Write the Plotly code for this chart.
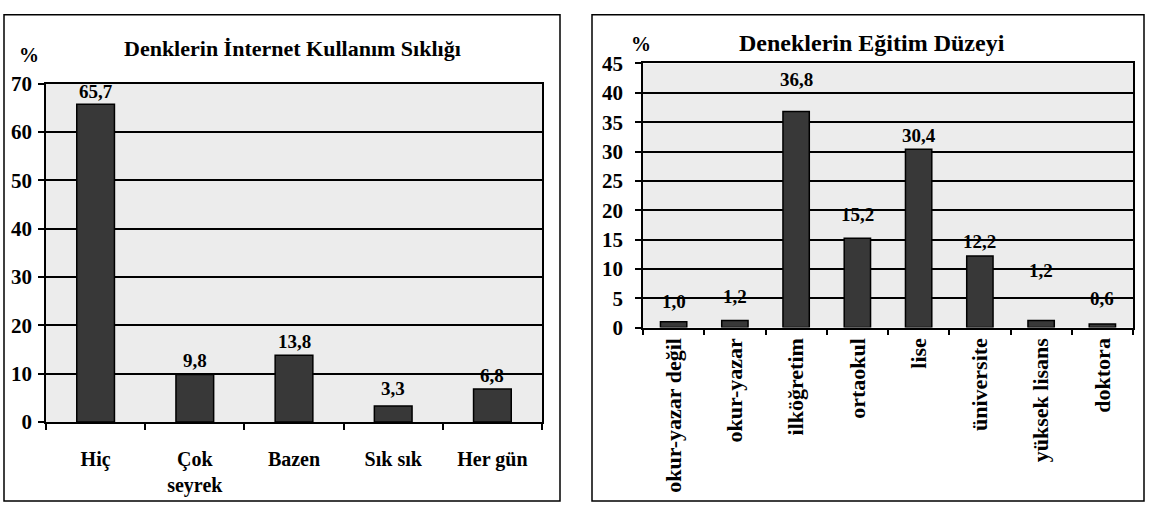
import plotly.graph_objects as go

W, H = 1149, 515

# Left chart data
freq_categories = ["Hiç", "Çok<br>seyrek", "Bazen", "Sık sık", "Her gün"]
freq_values = [65.7, 9.8, 13.8, 3.3, 6.8]
freq_labels = ["65,7", "9,8", "13,8", "3,3", "6,8"]
freq_title = "Denklerin İnternet Kullanım Sıklığı"
freq_yticks = [0, 10, 20, 30, 40, 50, 60, 70]

# Right chart data
edu_categories = ["okur-yazar değil", "okur-yazar", "ilköğretim", "ortaokul",
                  "lise", "üniversite", "yüksek lisans", "doktora"]
edu_values = [1.0, 1.2, 36.8, 15.2, 30.4, 12.2, 1.2, 0.6]
edu_labels = ["1,0", "1,2", "36,8", "15,2", "30,4", "12,2", "1,2", "0,6"]
edu_title = "Deneklerin Eğitim Düzeyi"
edu_yticks = [0, 5, 10, 15, 20, 25, 30, 35, 40, 45]

# label lift above bar top, in pixels (style only)
freq_label_lift = [13, 14, 14, 18, 14]
edu_label_lift = [20, 24, 32, 24, 14, 14, 50, 26]

FONT = "Liberation Serif"
BAR = "#383838"
BG = "#ececec"


def px(x):
    return x / W


def py(y):
    return 1 - y / H


fig = go.Figure()

fig.add_trace(go.Bar(
    x=freq_categories, y=freq_values,
    marker=dict(color=BAR, line=dict(color="black", width=1.5)),
    width=0.38, xaxis="x", yaxis="y", showlegend=False, hoverinfo="x+y",
))

fig.add_trace(go.Bar(
    x=edu_categories, y=edu_values,
    marker=dict(color=BAR, line=dict(color="black", width=1.5)),
    width=0.43, xaxis="x2", yaxis="y2", showlegend=False, hoverinfo="x+y",
))

label_font = dict(family=FONT, size=19, color="black")
annotations = []
for c, v, t, s in zip(freq_categories, freq_values, freq_labels, freq_label_lift):
    annotations.append(dict(x=c, y=v, xref="x", yref="y", text=f"<b>{t}</b>",
                            showarrow=False, yanchor="middle", yshift=s,
                            font=label_font))
for c, v, t, s in zip(edu_categories, edu_values, edu_labels, edu_label_lift):
    annotations.append(dict(x=c, y=v, xref="x2", yref="y2", text=f"<b>{t}</b>",
                            showarrow=False, yanchor="middle", yshift=s,
                            font=label_font))

annotations += [
    dict(text=f"<b>{freq_title}</b>", xref="paper", yref="paper",
         x=px(292), y=py(38), xanchor="center", yanchor="middle",
         showarrow=False, font=dict(family=FONT, size=22, color="black")),
    dict(text="<b>%</b>", xref="paper", yref="paper",
         x=px(29), y=py(45), xanchor="center", yanchor="middle",
         showarrow=False, font=dict(family=FONT, size=20, color="black")),
    dict(text=f"<b>{edu_title}</b>", xref="paper", yref="paper",
         x=px(872), y=py(33), xanchor="center", yanchor="middle",
         showarrow=False, font=dict(family=FONT, size=24, color="black")),
    dict(text="<b>%</b>", xref="paper", yref="paper",
         x=px(641), y=py(34), xanchor="center", yanchor="middle",
         showarrow=False, font=dict(family=FONT, size=20, color="black")),
]

axis_common = dict(
    showline=True, linecolor="black", linewidth=1.5, mirror=True,
    ticks="outside", tickcolor="black", tickwidth=1.5,
)
ytick_font = dict(family=FONT, size=21, color="black", weight="bold")

fig.update_layout(
    width=W, height=H,
    margin=dict(l=0, r=0, t=0, b=0),
    paper_bgcolor="white",
    plot_bgcolor=BG,
    xaxis=dict(domain=[px(46), px(542)], anchor="y", type="category",
               tickson="boundaries", ticklen=6, showgrid=False,
               ticklabelstandoff=18,
               tickfont=dict(family=FONT, size=20, color="black", weight="bold"),
               **axis_common),
    yaxis=dict(domain=[py(430), py(75)], anchor="x", range=[0, 70],
               tickvals=freq_yticks, ticklen=6, showgrid=True,
               gridcolor="black", gridwidth=1.5, zeroline=False,
               ticklabelstandoff=2, tickfont=ytick_font, **axis_common),
    xaxis2=dict(domain=[px(643), px(1133)], anchor="y2", type="category",
                tickson="boundaries", ticklen=6, showgrid=False,
                tickangle=-90, ticklabelstandoff=0,
                tickfont=dict(family=FONT, size=22, color="black", weight="bold"),
                **axis_common),
    yaxis2=dict(domain=[py(331), py(54)], anchor="x2", range=[0, 45],
                tickvals=edu_yticks, ticklen=6, showgrid=True,
                gridcolor="black", gridwidth=1.5, zeroline=False,
                ticklabelstandoff=8, tickfont=ytick_font, **axis_common),
    shapes=[
        dict(type="rect", xref="paper", yref="paper",
             x0=px(4), x1=px(560), y0=py(513), y1=py(3),
             line=dict(color="black", width=1.5), fillcolor="rgba(0,0,0,0)", layer="below"),
        dict(type="rect", xref="paper", yref="paper",
             x0=px(592), x1=px(1144), y0=py(513), y1=py(3),
             line=dict(color="black", width=1.5), fillcolor="rgba(0,0,0,0)", layer="below"),
    ],
    annotations=annotations,
)

fig.write_html("out.html", config={"displayModeBar": False},
               post_script="document.body.style.margin='0';document.body.style.overflow='hidden';")
